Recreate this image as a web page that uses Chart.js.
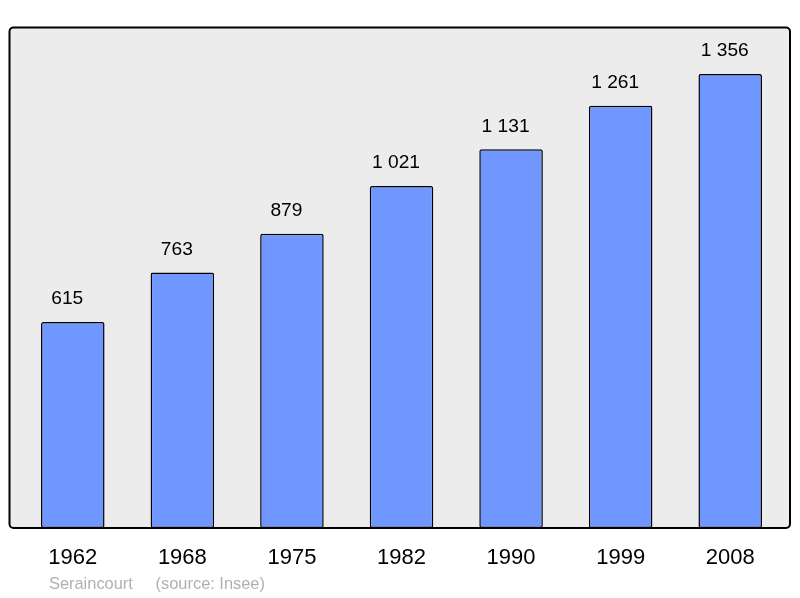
<!DOCTYPE html>
<html><head><meta charset="utf-8">
<script src="https://cdn.jsdelivr.net/npm/chart.js@4/dist/chart.umd.min.js"></script>
<style>
html,body{margin:0;padding:0;background:#fff;}
#wrap{position:relative;width:800px;height:598px;}
#src{position:absolute;left:49px;top:574px;font:16.4px "Liberation Sans",Arial,sans-serif;color:#b0b0b0;white-space:pre;}
</style></head><body>
<div id="wrap"><canvas id="c" width="800" height="598"></canvas>
<div id="src">Seraincourt     (source: Insee)</div></div>
<script>
const years = ["1962","1968","1975","1982","1990","1999","2008"];
const population = [615,763,879,1021,1131,1261,1356];
const yMax = 1496;

function fmt(v){return String(v).replace(/\B(?=(\d{3})+(?!\d))/g," ");}

const boxPlugin = {
  id:'box',
  beforeDatasetsDraw(chart){
    const ctx=chart.ctx;
    ctx.save();
    ctx.beginPath();
    ctx.roundRect(9.5,27.5,780.5,500.5,4);
    ctx.fillStyle='#ececec';
    ctx.fill();
    ctx.restore();
  },
  afterDatasetsDraw(chart){
    const ctx=chart.ctx;
    ctx.save();
    ctx.beginPath();
    ctx.roundRect(9.5,27.5,780.5,500.5,4);
    ctx.lineWidth=2;
    ctx.strokeStyle='#000';
    ctx.stroke();
    const meta=chart.getDatasetMeta(0);
    ctx.font='19.2px "Liberation Sans", Arial, sans-serif';
    ctx.fillStyle='#000';
    ctx.textAlign='center';
    ctx.textBaseline='middle';
    meta.data.forEach((b,i)=>{
      ctx.fillText(fmt(population[i]), b.x-5.5, b.y-23);
    });
    ctx.restore();
  }
};

new Chart(document.getElementById('c'),{
  type:'bar',
  data:{labels:years,datasets:[{data:population,backgroundColor:'#7096ff',borderColor:'#000',borderWidth:1.5,borderRadius:2,borderSkipped:false,categoryPercentage:1,barPercentage:0.58}]},
  options:{
    responsive:false,animation:false,
    layout:{padding:{left:18,right:15,top:27,bottom:0}},
    plugins:{legend:{display:false},tooltip:{enabled:false}},
    scales:{
      x:{grid:{display:false,drawTicks:false},border:{display:false},
         ticks:{color:'#000',font:{family:'"Liberation Sans", Arial, sans-serif',size:22},padding:17},
         afterFit(s){s.height=70;}},
      y:{display:false,min:0,max:yMax}
    }
  },
  plugins:[boxPlugin]
});
</script>
</body></html>
